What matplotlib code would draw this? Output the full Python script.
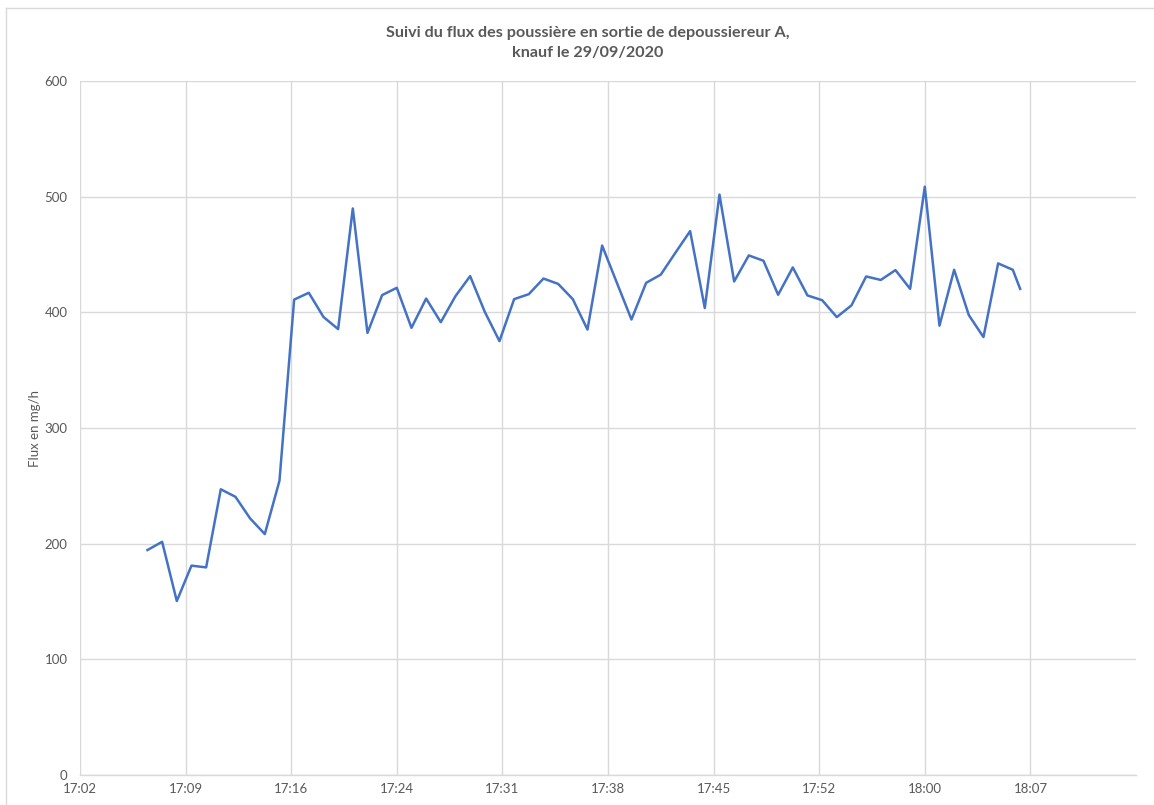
import matplotlib
matplotlib.use("Agg")
import matplotlib.pyplot as plt
import matplotlib.dates as mdates
from matplotlib.lines import Line2D
import pandas as pd

DAY = "2020-09-29"

# Sampling times (one reading per minute)
times = [
    "17:07:00", "17:08:00", "17:09:00", "17:10:00", "17:11:00", "17:12:00",
    "17:13:00", "17:14:00", "17:15:00", "17:16:00", "17:17:00", "17:18:00",
    "17:19:00", "17:20:00", "17:21:00", "17:22:00", "17:23:00", "17:24:00",
    "17:25:00", "17:26:00", "17:27:00", "17:28:00", "17:29:00", "17:30:00",
    "17:31:00", "17:32:00", "17:33:00", "17:34:00", "17:35:00", "17:36:00",
    "17:37:00", "17:38:00", "17:39:00", "17:40:00", "17:41:00", "17:42:00",
    "17:43:00", "17:44:00", "17:45:00", "17:46:00", "17:47:00", "17:48:00",
    "17:49:00", "17:50:00", "17:51:00", "17:52:00", "17:53:00", "17:54:00",
    "17:55:00", "17:56:00", "17:57:00", "17:58:00", "17:59:00", "18:00:00",
    "18:01:00", "18:02:00", "18:03:00", "18:04:00", "18:05:00", "18:06:00",
    "18:06:30",
]

# Dust flux in mg/h
flux = [
    194.5, 201.6, 150.4, 181.0, 179.5, 247.0, 240.5, 221.8, 208.3, 254.4,
    411.0, 416.9, 396.0, 385.5, 489.8, 382.2, 414.9, 421.2, 386.6, 411.9,
    391.5, 414.0, 431.3, 400.4, 375.1, 411.4, 415.7, 429.2, 424.6, 411.4,
    385.1, 457.7, 425.7, 393.8, 425.5, 432.6, 451.6, 470.2, 403.7, 501.8,
    426.7, 449.2, 444.6, 415.2, 438.8, 414.6, 410.5, 395.9, 406.0, 431.0,
    428.0, 436.5, 420.3, 508.6, 388.5, 436.8, 397.6, 378.6, 442.3, 436.8,
    420.3,
]

# Axis ticks (major unit 0.005 day)
x_ticks = ["17:02:24", "17:09:36", "17:16:48", "17:24:00", "17:31:12",
           "17:38:24", "17:45:36", "17:52:48", "18:00:00", "18:07:12"]
x_end = "18:14:24"
y_ticks = [0, 100, 200, 300, 400, 500, 600]

TEXT = "#595959"
GRID = "#D9D9D9"
LINE = "#4472C4"
plt.rcParams["font.family"] = ["Lato", "DejaVu Sans"]

W, H = 1154, 805
fig = plt.figure(figsize=(W / 100, H / 100), dpi=100)

# Chart frame border
fig.add_artist(Line2D([6 / W, 6 / W], [0, 1 - 8 / H], color=GRID, lw=1,
                      transform=fig.transFigure))
fig.add_artist(Line2D([6 / W, 1], [1 - 8 / H, 1 - 8 / H], color=GRID, lw=1,
                      transform=fig.transFigure))

# Document heading above the chart, running past the top edge of the page
fig.text(175 / W, 1 + 23 / H, "a)  poussières totales", ha="left", va="baseline",
         fontsize=23, fontweight="bold", family=["Liberation Serif"], color="black")

ax = fig.add_axes([80 / W, 30 / H, (1136 - 80) / W, (775 - 81) / H])

def to_dt(s):
    return pd.to_datetime(f"{DAY} {s}")

t = [to_dt(s) for s in times]
ax.plot(t, flux, color=LINE, lw=1.8, solid_joinstyle="round", zorder=3)

ax.set_xlim(to_dt(x_ticks[0]), to_dt(x_end))
ax.set_ylim(y_ticks[0], y_ticks[-1])
ax.set_yticks(y_ticks)
ax.set_xticks([to_dt(s) for s in x_ticks])
ax.xaxis.set_major_formatter(mdates.DateFormatter("%H:%M"))

ax.grid(True, color=GRID, lw=1)
ax.set_axisbelow(True)
for side in ("left", "right", "top"):
    ax.spines[side].set_visible(False)
ax.spines["bottom"].set_color(GRID)
ax.spines["bottom"].set_linewidth(1)

ax.tick_params(axis="both", length=0, colors=TEXT, labelsize=9.5)
ax.tick_params(axis="y", pad=9)
ax.tick_params(axis="x", pad=6)

ax.set_ylabel("Flux en mg/h", color=TEXT, fontsize=9.5)
ax.yaxis.set_label_coords(-(80 - 41) / (1136 - 80), 0.5)

fig.text(588 / W, 1 - 37 / H, "Suivi du flux des poussière en sortie de depoussiereur A,",
         ha="center", va="baseline", fontsize=11.6, fontweight="bold", color=TEXT)
fig.text(588 / W, 1 - 57 / H, "knauf le 29/09/2020",
         ha="center", va="baseline", fontsize=11.6, fontweight="bold", color=TEXT)

fig.savefig("out.png", dpi=100)
